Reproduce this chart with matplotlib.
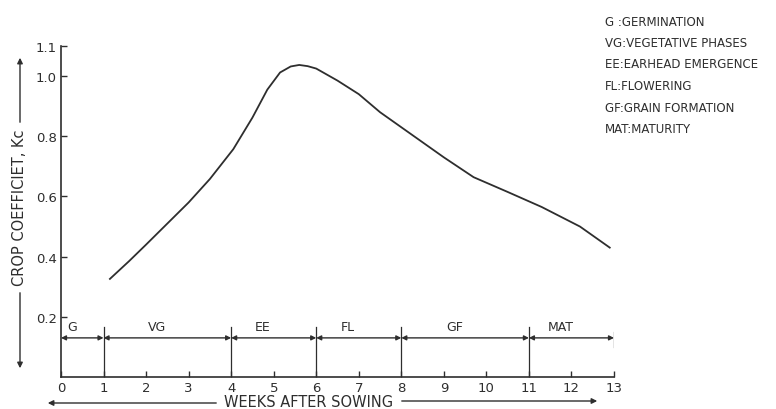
import matplotlib
matplotlib.use('Agg')
import matplotlib.pyplot as plt

# Crop coefficient curve
weeks = [1.15, 1.6, 2.0, 2.5, 3.0, 3.5, 4.05, 4.5, 4.85, 5.15, 5.4, 5.6, 5.8, 6.0,
         6.5, 7.0, 7.5, 8.0, 8.5, 9.0, 9.7, 10.5, 11.3, 12.2, 12.9]
kc = [0.326, 0.385, 0.44, 0.51, 0.58, 0.658, 0.757, 0.862, 0.955, 1.012, 1.032, 1.037,
      1.033, 1.025, 0.985, 0.94, 0.88, 0.83, 0.78, 0.73, 0.664, 0.615, 0.565, 0.50, 0.43]

# Growth phases (week boundaries)
phase_bounds = [0, 1, 4, 6, 8, 11, 13]
phase_names = ['G', 'VG', 'EE', 'FL', 'GF', 'MAT']

x_ticks = list(range(14))
y_ticks = [0.2, 0.4, 0.6, 0.8, 1.0, 1.1]
y_tick_labels = ['0.2', '0.4', '0.6', '0.8', '1.0', '1.1']

legend_lines = ['G :GERMINATION', 'VG:VEGETATIVE PHASES', 'EE:EARHEAD EMERGENCE',
                'FL:FLOWERING', 'GF:GRAIN FORMATION', 'MAT:MATURITY']

ink = '#2e2e2e'
W, H = 776, 410

fig = plt.figure(figsize=(W / 100, H / 100), dpi=100)
ax = fig.add_axes([61 / W, 32 / H, 553 / W, 331 / H])

ax.plot(weeks, kc, color=ink, lw=1.3)

ax.set_xlim(0, 13)
ax.set_ylim(0, 1.1)
ax.spines['top'].set_visible(False)
ax.spines['right'].set_visible(False)
for s in ['left', 'bottom']:
    ax.spines[s].set_color(ink)
    ax.spines[s].set_linewidth(1.2)
ax.set_xticks(x_ticks)
ax.set_yticks(y_ticks)
ax.set_yticklabels(y_tick_labels)
ax.tick_params(direction='in', length=4, width=1, labelsize=9.5, colors=ink, pad=3)

# phase bar with arrows
phase_y = 0.13
for left, right, name in zip(phase_bounds[:-1], phase_bounds[1:], phase_names):
    ax.annotate('', xy=(left, phase_y), xytext=(right, phase_y),
                arrowprops=dict(arrowstyle='<|-|>', color=ink, lw=1.0,
                                mutation_scale=7, shrinkA=0, shrinkB=0))
    ax.text((left + right) / 2 - 0.25, phase_y + 0.015, name, ha='center', va='bottom',
            fontsize=9, color=ink)
for b in phase_bounds[1:-1]:
    ax.plot([b, b], [0, phase_y + 0.035], color=ink, lw=0.9)
ax.plot([13, 13], [phase_y - 0.03, phase_y + 0.02], color=ink, lw=0.9)

# y label with arrows
fig.text(20 / W, 1 - 208 / H, 'CROP COEFFICIET, Kc', rotation=90, ha='center', va='center',
         fontsize=10.5, color=ink)
fig.add_artist(matplotlib.patches.FancyArrowPatch((20 / W, 1 - 126 / H), (20 / W, 1 - 56 / H),
               transform=fig.transFigure, arrowstyle='-|>', mutation_scale=8, color=ink, lw=1))
fig.add_artist(matplotlib.patches.FancyArrowPatch((20 / W, 1 - 291 / H), (20 / W, 1 - 372 / H),
               transform=fig.transFigure, arrowstyle='-|>', mutation_scale=8, color=ink, lw=1))

# x label with arrows
fig.text(309 / W, 1 - 403 / H, 'WEEKS AFTER SOWING', ha='center', va='center',
         fontsize=10.5, color=ink)
fig.add_artist(matplotlib.patches.FancyArrowPatch((219 / W, 1 - 404 / H), (45 / W, 1 - 404 / H),
               transform=fig.transFigure, arrowstyle='-|>', mutation_scale=8, color=ink, lw=1))
fig.add_artist(matplotlib.patches.FancyArrowPatch((399 / W, 1 - 402 / H), (600 / W, 1 - 402 / H),
               transform=fig.transFigure, arrowstyle='-|>', mutation_scale=8, color=ink, lw=1))

# phase key
for i, line in enumerate(legend_lines):
    fig.text(605 / W, 1 - (22 + 21.5 * i) / H, line, ha='left', va='center',
             fontsize=8.5, color=ink)

fig.savefig('out.png', dpi=100)
